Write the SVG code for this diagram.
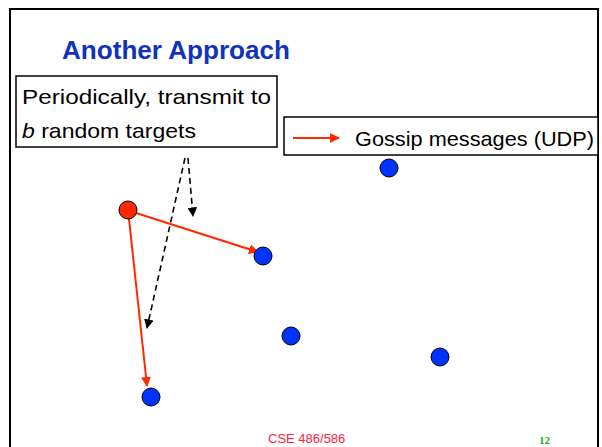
<svg xmlns="http://www.w3.org/2000/svg" width="602" height="447" viewBox="0 0 602 447">
<style>
.frame{fill:none;stroke:#000;stroke-width:2}
.box{fill:#fff;stroke:#000;stroke-width:1.5}
.lbl{font-family:"Liberation Sans",Arial,sans-serif;font-size:21px;fill:#000}
.red{fill:#ff2a00;stroke:#000;stroke-width:1}
.blue{fill:#0033ff;stroke:#000;stroke-width:1}
.rl{stroke:#ff2a00;stroke-width:2;fill:none}
.dl{stroke:#000;stroke-width:1.6;stroke-dasharray:6,4;fill:none}
</style>
<defs>
<marker id="ra" viewBox="0 0 10 10" refX="9" refY="5" markerWidth="5" markerHeight="5" orient="auto" markerUnits="strokeWidth"><path d="M0,0 L10,5 L0,10 z" fill="#ff2a00"/></marker>
<marker id="ka" viewBox="0 0 10 10" refX="9" refY="5" markerWidth="6" markerHeight="6" orient="auto" markerUnits="strokeWidth"><path d="M0,0 L10,5 L0,10 z" fill="#000"/></marker>
</defs>
<rect width="602" height="447" fill="#fff"/>
<rect class="frame" x="10" y="9" width="588" height="460"/>
<text x="62" y="59" font-family="Liberation Sans,Arial,sans-serif" font-weight="bold" font-size="25" fill="#1133bb" textLength="228" lengthAdjust="spacingAndGlyphs">Another Approach</text>
<g id="connectors">
<line class="rl" x1="136" y1="213" x2="258" y2="252" marker-end="url(#ra)"/>
<line class="rl" x1="129" y1="219" x2="147" y2="386" marker-end="url(#ra)"/>
<line class="dl" x1="188" y1="158" x2="193" y2="216" marker-end="url(#ka)"/>
<line class="dl" x1="185" y1="158" x2="147" y2="328" marker-end="url(#ka)"/>
</g>
<g id="note">
<rect class="box" x="16" y="76" width="261" height="71"/>
<text class="lbl" x="22" y="104" textLength="249" lengthAdjust="spacingAndGlyphs">Periodically, transmit to</text>
<text class="lbl" x="22" y="138" textLength="174" lengthAdjust="spacingAndGlyphs"><tspan font-style="italic">b</tspan> random targets</text>
</g>
<g id="legend">
<rect class="box" x="284" y="117" width="314" height="38"/>
<line class="rl" x1="293" y1="138" x2="339" y2="138" marker-end="url(#ra)"/>
<text class="lbl" x="355" y="146" textLength="239" lengthAdjust="spacingAndGlyphs">Gossip messages (UDP)</text>
</g>
<g id="n0"><circle class="red" cx="128" cy="210" r="9"/></g>
<g id="n1"><circle class="blue" cx="389" cy="168" r="9"/></g>
<g id="n2"><circle class="blue" cx="263" cy="256" r="9"/></g>
<g id="n3"><circle class="blue" cx="291" cy="336" r="9"/></g>
<g id="n4"><circle class="blue" cx="440" cy="357" r="9"/></g>
<g id="n5"><circle class="blue" cx="151" cy="397" r="9"/></g>
<text x="268" y="443" font-family="Liberation Sans,Arial,sans-serif" font-size="13" fill="#ff2244">CSE 486/586</text>
<text x="539" y="444" font-family="Liberation Serif,serif" font-weight="bold" font-size="11" fill="#22aa22">12</text>
</svg>
